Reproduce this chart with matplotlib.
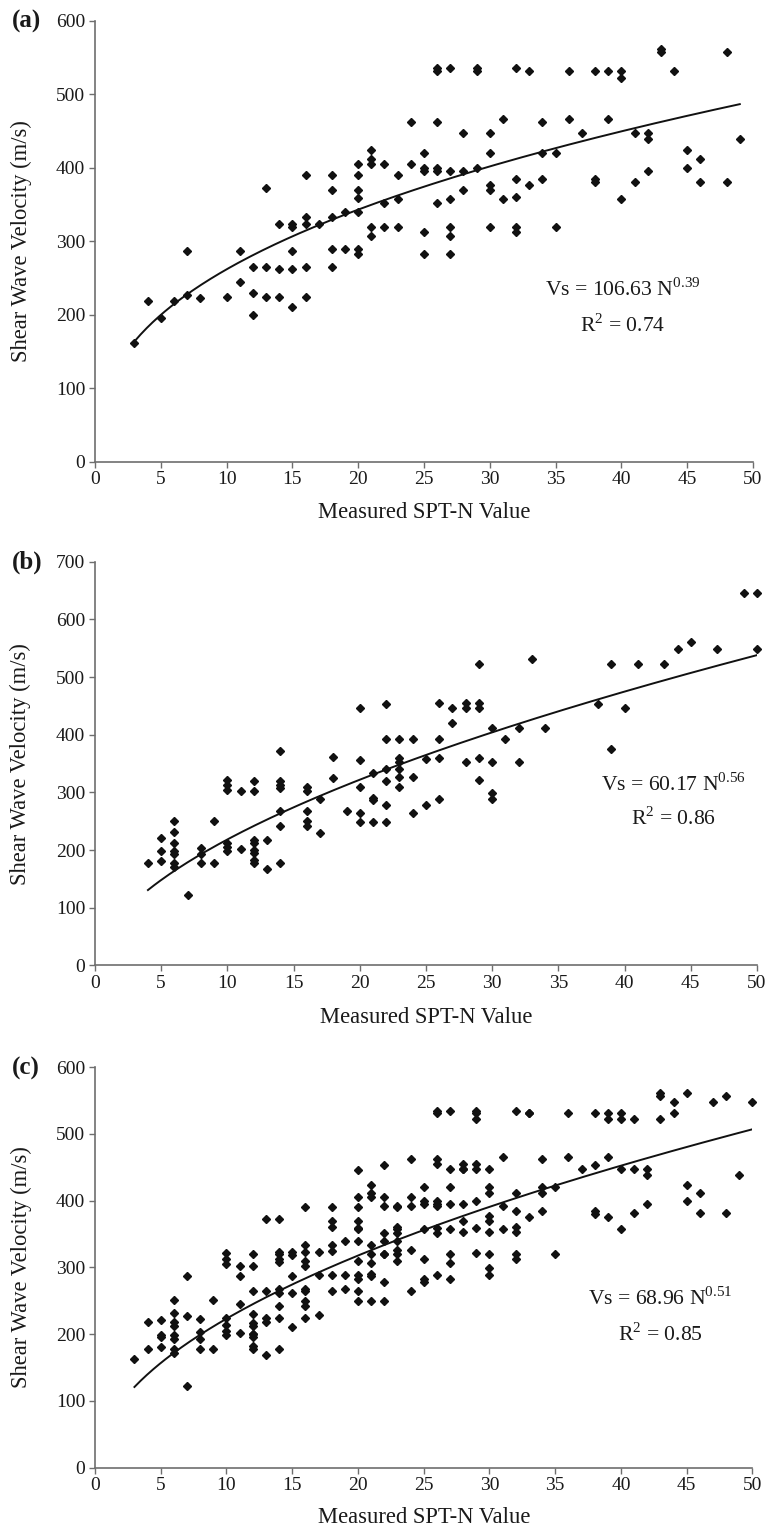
import numpy as np
import matplotlib
matplotlib.use("Agg")
import matplotlib.pyplot as plt

plt.rcParams["font.family"] = ["Liberation Serif", "DejaVu Serif"]
plt.rcParams["mathtext.fontset"] = "custom"
plt.rcParams["mathtext.rm"] = "Liberation Serif"

# panel (a) data: measured SPT-N vs shear wave velocity (m/s)
a_n = [3, 4, 5, 6, 7, 7, 8, 10, 11, 11,
       12, 12, 12, 13, 13, 13, 14, 14, 14, 15,
       15, 15, 15, 15, 16, 16, 16, 16, 16, 17,
       18, 18, 18, 18, 18, 19, 19, 20, 20, 20,
       20, 20, 20, 20, 21, 21, 21, 21, 21, 22,
       22, 22, 23, 23, 23, 24, 24, 25, 25, 25,
       25, 25, 26, 26, 26, 26, 26, 26, 27, 27,
       27, 27, 27, 27, 28, 28, 28, 29, 29, 29,
       30, 30, 30, 30, 30, 31, 31, 32, 32, 32,
       32, 32, 33, 33, 34, 34, 34, 35, 35, 36,
       36, 37, 38, 38, 38, 39, 39, 40, 40, 40,
       41, 41, 42, 42, 42, 43, 43, 44, 45, 45,
       46, 46, 48, 48, 49]
a_vs = [162, 218, 195, 218, 287, 227, 223, 224, 287, 245,
        265, 230, 200, 373, 265, 224, 323, 262, 224, 323,
        319, 287, 262, 210, 390, 333, 323, 265, 224, 323,
        390, 370, 333, 289, 265, 340, 289, 405, 390, 370,
        359, 340, 289, 283, 424, 412, 405, 320, 307, 405,
        352, 320, 390, 358, 320, 462, 405, 420, 399, 395,
        312, 283, 535, 531, 462, 399, 395, 352, 535, 395,
        357, 320, 307, 283, 447, 395, 370, 535, 531, 400,
        447, 420, 377, 370, 320, 466, 357, 535, 385, 360,
        320, 312, 531, 376, 462, 420, 385, 420, 320, 531,
        466, 447, 531, 385, 380, 531, 466, 531, 522, 357,
        447, 381, 447, 439, 395, 561, 557, 531, 424, 400,
        412, 381, 557, 381, 439]

# panel (b) data
b_n = [4, 5, 5, 5, 6, 6, 6, 6, 6, 6,
       6, 7, 8, 8, 8, 9, 9, 10, 10, 10,
       10, 10, 10, 11, 11, 12, 12, 12, 12, 12,
       12, 12, 12, 13, 13, 14, 14, 14, 14, 14,
       14, 14, 16, 16, 16, 16, 16, 17, 17, 18,
       18, 19, 20, 20, 20, 20, 20, 21, 21, 21,
       21, 22, 22, 22, 22, 22, 22, 23, 23, 23,
       23, 23, 23, 24, 24, 24, 25, 25, 26, 26,
       26, 26, 27, 27, 28, 28, 28, 29, 29, 29,
       29, 29, 30, 30, 30, 30, 31, 32, 32, 33,
       34, 38, 39, 39, 40, 41, 43, 44, 45, 47,
       49, 50, 50]
b_vs = [178, 221, 199, 181, 251, 232, 212, 198, 193, 178,
        171, 122, 203, 193, 178, 251, 178, 321, 313, 305,
        213, 205, 198, 302, 202, 320, 302, 217, 212, 200,
        195, 182, 178, 218, 168, 372, 320, 313, 308, 268,
        242, 178, 310, 302, 268, 250, 242, 288, 229, 361,
        325, 268, 446, 357, 310, 264, 249, 333, 290, 287,
        249, 454, 392, 340, 320, 278, 249, 392, 360, 352,
        340, 326, 310, 392, 326, 264, 358, 278, 455, 392,
        359, 289, 447, 421, 455, 447, 353, 522, 455, 447,
        359, 321, 411, 353, 299, 288, 392, 411, 353, 531,
        411, 454, 522, 376, 447, 522, 522, 548, 561, 548,
        645, 645, 548]

# panel (c) combines both data sets
c_n = a_n + b_n
c_vs = a_vs + b_vs

# power-law fits Vs = A * N^B shown on each panel
fit_a = (106.63, 0.39, 0.74)
fit_b = (60.17, 0.56, 0.86)
fit_c = (68.96, 0.51, 0.85)

y_max = [600, 700, 600]
panel_labels = ["(a)", "(b)", "(c)"]

fig = plt.figure(figsize=(7.71, 15.33), dpi=100)

# axes boxes in figure fractions [left, bottom, width, height]
boxes = [[0.1232, 0.6988, 0.8534, 0.2877],
         [0.1232, 0.3702, 0.8586, 0.2634],
         [0.1232, 0.0427, 0.8528, 0.2611]]
eq_pos = [(40.1, 234, 186), (43.7, 313, 255), (43.0, 254, 199)]
xlabel_y = [-0.114, -0.13, -0.124]

datasets = [(a_n, a_vs, fit_a), (b_n, b_vs, fit_b), (c_n, c_vs, fit_c)]

for i, (n, vs, fit) in enumerate(datasets):
    ax = fig.add_axes(boxes[i])
    n = np.array(n)
    vs = np.array(vs)
    keep = vs <= y_max[i]
    ax.plot(n[keep], vs[keep], linestyle="none", marker="D", markersize=3.8,
            color="#111111", clip_on=False, zorder=3)

    A, B, r2 = fit
    xs = np.linspace(n.min(), n.max(), 200)
    ax.plot(xs, A * xs ** B, color="#111111", linewidth=1.4, zorder=2)

    ax.set_xlim(0, 50)
    ax.set_ylim(0, y_max[i])
    ax.set_xticks(np.arange(0, 51, 5))
    ax.set_yticks(np.arange(0, y_max[i] + 1, 100))

    for side in ["top", "right"]:
        ax.spines[side].set_visible(False)
    for side in ["left", "bottom"]:
        ax.spines[side].set_color("#6e6e6e")
        ax.spines[side].set_linewidth(1.2)
    ax.tick_params(direction="out", length=4, width=1, color="#6e6e6e",
                   labelsize=14, labelcolor="#1a1a1a", pad=3)

    ax.set_xlabel("Measured SPT-N Value", fontsize=16.3, color="#1a1a1a",
                  va="center")
    ax.xaxis.set_label_coords(0.5, xlabel_y[i])
    ax.set_ylabel("Shear Wave Velocity (m/s)", fontsize=16.3, color="#1a1a1a")
    ax.yaxis.set_label_coords(-0.096, 0.5)

    ex, ey1, ey2 = eq_pos[i]
    ax.text(ex, ey1, "Vs = %.2f N$^{\\mathregular{%.2f}}$" % (A, B),
            ha="center", va="center", fontsize=15.6, color="#1a1a1a")
    ax.text(ex, ey2, "R$^{\\mathregular{2}}$ = %.2f" % r2,
            ha="center", va="center", fontsize=15.6, color="#1a1a1a")

    top_px = (1 - boxes[i][1] - boxes[i][3]) * 1533
    fig.text(12 / 771, 1 - (top_px + 1) / 1533, panel_labels[i],
             fontsize=18, fontweight="bold", ha="left", va="center",
             color="#1a1a1a")

fig.savefig("out.png", dpi=100)
